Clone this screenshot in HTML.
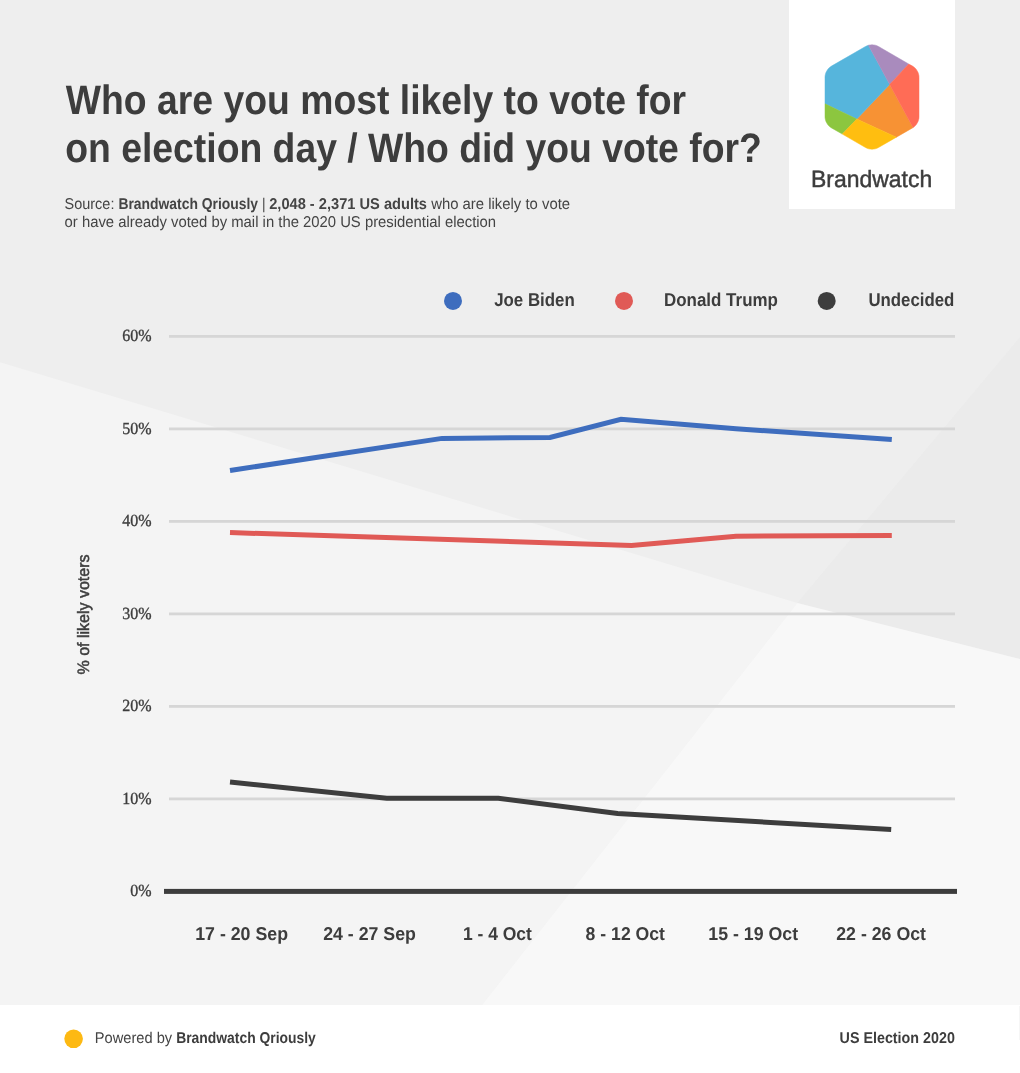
<!DOCTYPE html>
<html><head><meta charset="utf-8"><title>Who are you most likely to vote for</title>
<style>
html,body{margin:0;padding:0;background:#ffffff;}
svg{display:block;will-change:transform;text-rendering:geometricPrecision;}

</style></head>
<body>
<svg width="1020" height="1073" viewBox="0 0 1020 1073">
<rect x="0" y="0" width="1020" height="1005" fill="#eeeeee"/>
<polygon points="1020.0,337.0 1020.0,659.0 797.3,603.0" fill="#ebebeb"/>
<polygon points="0.0,362.2 797.3,603.0 482.0,1005.0 0.0,1005.0" fill="#f4f4f4"/>
<polygon points="797.3,603.0 1020.0,659.0 1020.0,1005.0 482.0,1005.0" fill="#f8f8f8"/>
<rect x="0" y="1005" width="1020" height="68" fill="#ffffff"/>
<rect x="1019" y="1006" width="1" height="34" fill="#f6f6f6"/>
<rect x="789" y="0" width="166" height="209" fill="#ffffff"/>
<polygon points="889.7,84.4 913.0,127.5 912.5,127.9 896.4,137.2 856.8,119.1" fill="#f79234" stroke="#f79234" stroke-width="0.5" stroke-linejoin="round"/>
<polygon points="889.7,84.4 868.4,45.3 867.0,45.8 865.5,46.5 831.5,66.1 830.1,67.1 828.8,68.2 827.7,69.5 826.8,70.9 826.0,72.4 825.5,74.0 825.1,75.7 825.0,77.4 825.0,103.8 856.8,119.1" fill="#56b5dc" stroke="#56b5dc" stroke-width="0.5" stroke-linejoin="round"/>
<polygon points="870.3,44.9 872.0,44.8 873.7,44.9 875.4,45.2 877.0,45.8 878.5,46.5 908.7,64.0 889.7,84.4 868.4,45.3 868.6,45.2" fill="#a98bbd" stroke="#a98bbd" stroke-width="0.5" stroke-linejoin="round"/>
<polygon points="919.0,77.4 919.0,116.6 918.9,118.3 918.5,120.0 918.0,121.6 917.2,123.1 916.3,124.5 915.2,125.8 913.9,126.9 913.0,127.5 889.7,84.4 908.7,64.0 912.5,66.1 913.9,67.1 915.2,68.2 916.3,69.5 917.2,70.9 918.0,72.4 918.5,74.0 918.9,75.7" fill="#ff6c56" stroke="#ff6c56" stroke-width="0.5" stroke-linejoin="round"/>
<polygon points="825.0,116.6 825.1,118.3 825.5,120.0 826.0,121.6 826.8,123.1 827.7,124.5 828.8,125.8 830.1,126.9 831.5,127.9 842.3,134.1 856.8,119.1 825.0,103.8" fill="#8cc63f" stroke="#8cc63f" stroke-width="0.5" stroke-linejoin="round"/>
<polygon points="865.5,147.5 867.0,148.2 868.6,148.8 870.3,149.1 872.0,149.2 873.7,149.1 875.4,148.8 877.0,148.2 878.5,147.5 896.4,137.2 856.8,119.1 842.3,134.1" fill="#ffbe10" stroke="#ffbe10" stroke-width="0.5" stroke-linejoin="round"/>
<text x="811.0" y="186.5" font-size="23.5" fill="#3d3d3d" stroke="#3d3d3d" stroke-width="0.45" style="font-family:'Liberation Sans', sans-serif" textLength="121.2" lengthAdjust="spacingAndGlyphs">Brandwatch</text>
<rect x="169" y="335.00" width="786" height="2.8" fill="#d6d6d6"/>
<rect x="169" y="427.50" width="786" height="2.8" fill="#d6d6d6"/>
<rect x="169" y="520.00" width="786" height="2.8" fill="#d6d6d6"/>
<rect x="169" y="612.50" width="786" height="2.8" fill="#d6d6d6"/>
<rect x="169" y="705.00" width="786" height="2.8" fill="#d6d6d6"/>
<rect x="169" y="797.50" width="786" height="2.8" fill="#d6d6d6"/>
<text x="151.6" y="341.30" font-size="17" text-anchor="end" fill="#3d3d3d" stroke="#3d3d3d" stroke-width="0.35" style="font-family:'Liberation Serif', serif" textLength="29.3" lengthAdjust="spacingAndGlyphs">60%</text>
<text x="151.6" y="433.80" font-size="17" text-anchor="end" fill="#3d3d3d" stroke="#3d3d3d" stroke-width="0.35" style="font-family:'Liberation Serif', serif" textLength="29.3" lengthAdjust="spacingAndGlyphs">50%</text>
<text x="151.6" y="526.30" font-size="17" text-anchor="end" fill="#3d3d3d" stroke="#3d3d3d" stroke-width="0.35" style="font-family:'Liberation Serif', serif" textLength="29.3" lengthAdjust="spacingAndGlyphs">40%</text>
<text x="151.6" y="618.80" font-size="17" text-anchor="end" fill="#3d3d3d" stroke="#3d3d3d" stroke-width="0.35" style="font-family:'Liberation Serif', serif" textLength="29.3" lengthAdjust="spacingAndGlyphs">30%</text>
<text x="151.6" y="711.30" font-size="17" text-anchor="end" fill="#3d3d3d" stroke="#3d3d3d" stroke-width="0.35" style="font-family:'Liberation Serif', serif" textLength="29.3" lengthAdjust="spacingAndGlyphs">20%</text>
<text x="151.6" y="803.80" font-size="17" text-anchor="end" fill="#3d3d3d" stroke="#3d3d3d" stroke-width="0.35" style="font-family:'Liberation Serif', serif" textLength="29.3" lengthAdjust="spacingAndGlyphs">10%</text>
<text x="151.6" y="896.30" font-size="17" text-anchor="end" fill="#3d3d3d" stroke="#3d3d3d" stroke-width="0.35" style="font-family:'Liberation Serif', serif" textLength="21.3" lengthAdjust="spacingAndGlyphs">0%</text>
<rect x="164" y="888.90" width="793" height="5" fill="#3d3d3d"/>
<polyline points="230.0,782.0 386.7,798.2 498.3,798.2 617.6,813.4 891.2,829.5" fill="none" stroke="#3d3d3d" stroke-width="5" stroke-linejoin="miter"/>
<polyline points="230.0,532.6 631.5,545.5 736.0,536.2 891.8,535.5" fill="none" stroke="#e05a56" stroke-width="5" stroke-linejoin="miter"/>
<polyline points="230.0,470.5 442.0,438.4 550.0,437.4 621.0,419.3 736.0,428.7 891.8,439.5" fill="none" stroke="#3e6dbe" stroke-width="5" stroke-linejoin="miter"/>
<circle cx="453" cy="300.9" r="9" fill="#3e6dbe"/>
<circle cx="624" cy="300.9" r="9" fill="#e05a56"/>
<circle cx="826.7" cy="300.9" r="9" fill="#3d3d3d"/>
<text x="494.20" y="306.20" font-size="18.54" font-weight="bold" fill="#3d3d3d" style="font-family:'Liberation Sans', sans-serif" textLength="80.60" lengthAdjust="spacingAndGlyphs" xml:space="preserve">Joe Biden</text>
<text x="664.00" y="306.20" font-size="18.54" font-weight="bold" fill="#3d3d3d" style="font-family:'Liberation Sans', sans-serif" textLength="113.90" lengthAdjust="spacingAndGlyphs" xml:space="preserve">Donald Trump</text>
<text x="868.40" y="306.20" font-size="18.54" font-weight="bold" fill="#3d3d3d" style="font-family:'Liberation Sans', sans-serif" textLength="85.94" lengthAdjust="spacingAndGlyphs" xml:space="preserve">Undecided</text>
<text x="241.60" y="940.30" font-size="18.54" font-weight="bold" text-anchor="middle" fill="#3d3d3d" style="font-family:'Liberation Sans', sans-serif" textLength="92.75" lengthAdjust="spacingAndGlyphs" xml:space="preserve">17 - 20 Sep</text>
<text x="369.50" y="940.30" font-size="18.54" font-weight="bold" text-anchor="middle" fill="#3d3d3d" style="font-family:'Liberation Sans', sans-serif" textLength="92.75" lengthAdjust="spacingAndGlyphs" xml:space="preserve">24 - 27 Sep</text>
<text x="497.40" y="940.30" font-size="18.54" font-weight="bold" text-anchor="middle" fill="#3d3d3d" style="font-family:'Liberation Sans', sans-serif" textLength="69.05" lengthAdjust="spacingAndGlyphs" xml:space="preserve">1 - 4 Oct</text>
<text x="625.30" y="940.30" font-size="18.54" font-weight="bold" text-anchor="middle" fill="#3d3d3d" style="font-family:'Liberation Sans', sans-serif" textLength="79.37" lengthAdjust="spacingAndGlyphs" xml:space="preserve">8 - 12 Oct</text>
<text x="753.20" y="940.30" font-size="18.54" font-weight="bold" text-anchor="middle" fill="#3d3d3d" style="font-family:'Liberation Sans', sans-serif" textLength="89.70" lengthAdjust="spacingAndGlyphs" xml:space="preserve">15 - 19 Oct</text>
<text x="881.10" y="940.30" font-size="18.54" font-weight="bold" text-anchor="middle" fill="#3d3d3d" style="font-family:'Liberation Sans', sans-serif" textLength="89.70" lengthAdjust="spacingAndGlyphs" xml:space="preserve">22 - 26 Oct</text>
<g transform="translate(89.1,614.5) rotate(-90)"><text x="0.00" y="0.00" font-size="16.48" text-anchor="middle" fill="#3d3d3d" style="font-family:'Liberation Sans', sans-serif" textLength="119.95" lengthAdjust="spacingAndGlyphs" xml:space="preserve" stroke="#3d3d3d" stroke-width="0.5">% of likely voters</text></g>
<text x="65.80" y="114.00" font-size="41.20" font-weight="bold" fill="#3d3d3d" style="font-family:'Liberation Sans', sans-serif" textLength="620.27" lengthAdjust="spacingAndGlyphs" xml:space="preserve">Who are you most likely to vote for</text>
<text x="65.30" y="161.80" font-size="41.20" font-weight="bold" fill="#3d3d3d" style="font-family:'Liberation Sans', sans-serif" textLength="696.45" lengthAdjust="spacingAndGlyphs" xml:space="preserve">on election day / Who did you vote for?</text>
<text x="64.60" y="209.10" font-size="15.60" fill="#444444" style="font-family:'Liberation Sans', sans-serif" textLength="53.83" lengthAdjust="spacingAndGlyphs" xml:space="preserve">Source: </text>
<text x="118.43" y="209.10" font-size="15.60" font-weight="bold" fill="#444444" style="font-family:'Liberation Sans', sans-serif" textLength="139.66" lengthAdjust="spacingAndGlyphs" xml:space="preserve">Brandwatch Qriously</text>
<text x="258.10" y="209.10" font-size="15.60" fill="#444444" style="font-family:'Liberation Sans', sans-serif" textLength="11.10" lengthAdjust="spacingAndGlyphs" xml:space="preserve"> | </text>
<text x="269.20" y="209.10" font-size="15.60" font-weight="bold" fill="#444444" style="font-family:'Liberation Sans', sans-serif" textLength="157.80" lengthAdjust="spacingAndGlyphs" xml:space="preserve">2,048 - 2,371 US adults</text>
<text x="427.00" y="209.10" font-size="15.60" fill="#444444" style="font-family:'Liberation Sans', sans-serif" textLength="143.09" lengthAdjust="spacingAndGlyphs" xml:space="preserve"> who are likely to vote</text>
<text x="64.60" y="227.10" font-size="15.60" fill="#444444" style="font-family:'Liberation Sans', sans-serif" textLength="431.48" lengthAdjust="spacingAndGlyphs" xml:space="preserve">or have already voted by mail in the 2020 US presidential election</text>
<circle cx="73.6" cy="1038.8" r="9.3" fill="#fdb913"/>
<text x="94.80" y="1042.90" font-size="15.60" fill="#444444" style="font-family:'Liberation Sans', sans-serif" textLength="81.39" lengthAdjust="spacingAndGlyphs" xml:space="preserve">Powered by </text>
<text x="176.19" y="1042.90" font-size="15.60" font-weight="bold" fill="#3d3d3d" style="font-family:'Liberation Sans', sans-serif" textLength="139.66" lengthAdjust="spacingAndGlyphs" xml:space="preserve">Brandwatch Qriously</text>
<text x="839.60" y="1043.30" font-size="15.60" font-weight="bold" fill="#3d3d3d" style="font-family:'Liberation Sans', sans-serif" textLength="115.25" lengthAdjust="spacingAndGlyphs" xml:space="preserve">US Election 2020</text>
</svg>
</body></html>
